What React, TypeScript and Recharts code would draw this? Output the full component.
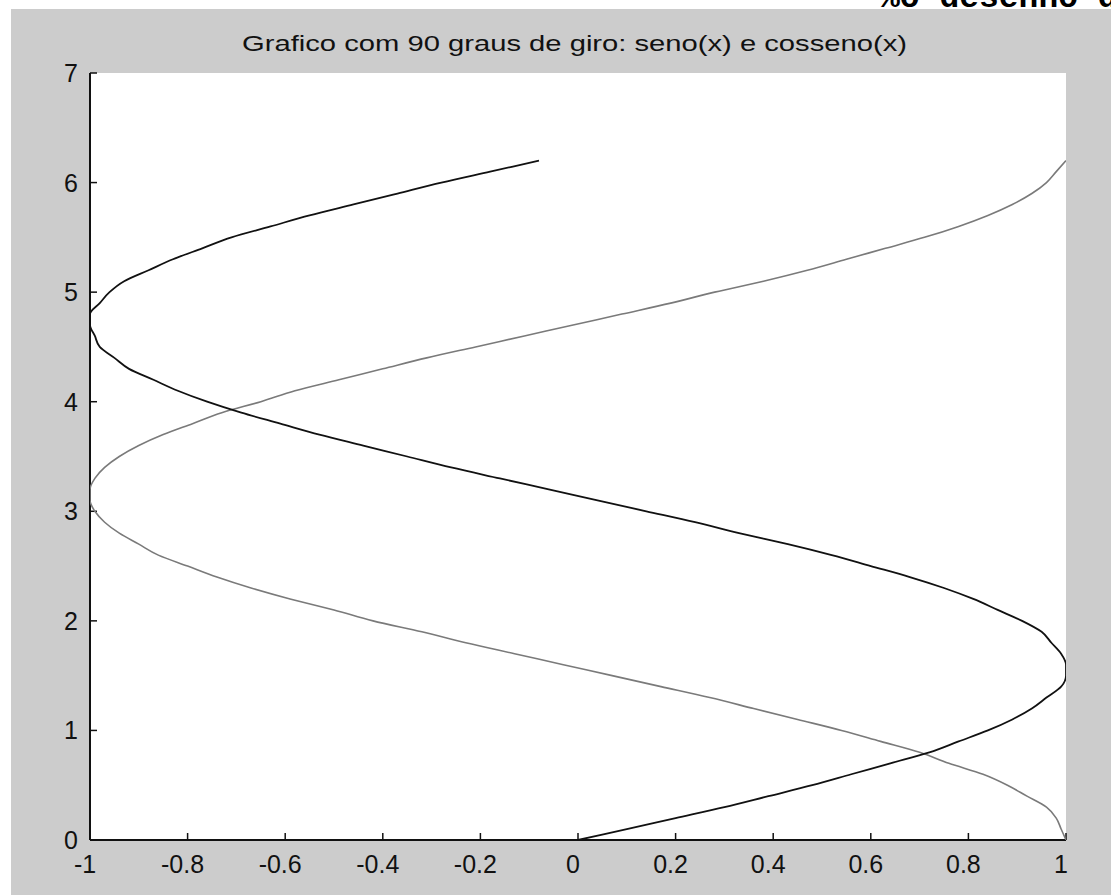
import { ScatterChart, Scatter, XAxis, YAxis, CartesianGrid } from 'recharts';

// angle (vertical axis) and the two rotated curves
const angles = [
  0, 0.1, 0.2, 0.3, 0.4, 0.5, 0.6, 0.7, 0.8, 0.9,
  1.0, 1.1, 1.2, 1.3, 1.4, 1.5, 1.6, 1.7, 1.8, 1.9,
  2.0, 2.1, 2.2, 2.3, 2.4, 2.5, 2.6, 2.7, 2.8, 2.9,
  3.0, 3.1, 3.2, 3.3, 3.4, 3.5, 3.6, 3.7, 3.8, 3.9,
  4.0, 4.1, 4.2, 4.3, 4.4, 4.5, 4.6, 4.7, 4.8, 4.9,
  5.0, 5.1, 5.2, 5.3, 5.4, 5.5, 5.6, 5.7, 5.8, 5.9,
  6.0, 6.1, 6.2,
];

const seno = [
  0, 0.1, 0.2, 0.3, 0.39, 0.48, 0.56, 0.64, 0.72, 0.78,
  0.84, 0.89, 0.93, 0.96, 0.99, 1.0, 1.0, 0.99, 0.97, 0.95,
  0.91, 0.86, 0.81, 0.75, 0.68, 0.6, 0.52, 0.43, 0.33, 0.24,
  0.14, 0.04, -0.06, -0.16, -0.26, -0.35, -0.44, -0.53, -0.61, -0.69,
  -0.76, -0.82, -0.87, -0.92, -0.95, -0.98, -0.99, -1.0, -1.0, -0.98,
  -0.96, -0.93, -0.88, -0.83, -0.77, -0.71, -0.63, -0.55, -0.46, -0.37,
  -0.28, -0.18, -0.08,
];

const cosseno = [
  1.0, 0.99, 0.98, 0.96, 0.92, 0.88, 0.83, 0.76, 0.7, 0.62,
  0.54, 0.45, 0.36, 0.27, 0.17, 0.07, -0.03, -0.13, -0.23, -0.32,
  -0.42, -0.5, -0.59, -0.67, -0.74, -0.8, -0.86, -0.9, -0.94, -0.97,
  -0.99, -1.0, -1.0, -0.99, -0.97, -0.94, -0.9, -0.85, -0.79, -0.73,
  -0.65, -0.58, -0.49, -0.4, -0.31, -0.21, -0.11, -0.01, 0.09, 0.19,
  0.28, 0.38, 0.47, 0.55, 0.63, 0.71, 0.78, 0.84, 0.89, 0.93,
  0.96, 0.98, 1.0,
];

const xTicks = [-1, -0.8, -0.6, -0.4, -0.2, 0, 0.2, 0.4, 0.6, 0.8, 1];
const yTicks = [0, 1, 2, 3, 4, 5, 6, 7];

const title = 'Grafico com 90 graus de giro: seno(x) e cosseno(x)';

const sinRows = angles.map((t, i) => ({ x: seno[i], t }));
const cosRows = angles.map((t, i) => ({ x: cosseno[i], t }));

const font = '"Liberation Sans", Arial, sans-serif';
const blank = () => '';

function XTick(p: any) {
  return (
    <text x={p.x - 5} y={p.y} dy="0.72em" textAnchor="middle" fontFamily={font} fontSize={25} fill="#111">
      {String(p.payload.value)}
    </text>
  );
}

function YTick(p: any) {
  return (
    <text x={p.x} y={p.y} dy="0.36em" textAnchor="end" fontFamily={font} fontSize={25} fill="#111">
      {String(p.payload.value)}
    </text>
  );
}

const noDot = () => <g />;

export default function App() {
  return (
    <div style={{ position: 'absolute', left: 0, top: 0, width: 1111, height: 895, background: '#fff', overflow: 'hidden' }}>
      <div style={{ position: 'absolute', left: 11, top: 9, width: 1100, height: 886, background: '#cccccc' }}>
        <ScatterChart width={1100} height={886} margin={{ top: 64, right: 45, bottom: 0, left: 0 }}>
          <CartesianGrid fill="#fff" stroke="none" horizontal={false} vertical={false} xAxisId="b" yAxisId="l" />
          <XAxis
            xAxisId="b"
            dataKey="x"
            type="number"
            domain={[-1, 1]}
            ticks={xTicks}
            allowDataOverflow
            height={55}
            tickSize={-7}
            tickMargin={22}
            tick={<XTick />}
            axisLine={{ stroke: '#111', strokeWidth: 2 }}
            tickLine={{ stroke: '#111', strokeWidth: 1.5 }}
          />
          <XAxis
            xAxisId="t"
            orientation="top"
            dataKey="x"
            type="number"
            domain={[-1, 1]}
            ticks={xTicks}
            height={0}
            tickSize={-7}
            tickFormatter={blank}
            axisLine={{ stroke: '#111', strokeWidth: 2 }}
            tickLine={{ stroke: '#111', strokeWidth: 1.5 }}
          />
          <YAxis
            yAxisId="l"
            dataKey="t"
            type="number"
            domain={[0, 7]}
            ticks={yTicks}
            allowDataOverflow
            width={79}
            tickSize={-7}
            tickMargin={19}
            tick={<YTick />}
            axisLine={{ stroke: '#111', strokeWidth: 2 }}
            tickLine={{ stroke: '#111', strokeWidth: 1.5 }}
          />
          <YAxis
            yAxisId="r"
            orientation="right"
            dataKey="t"
            type="number"
            domain={[0, 7]}
            ticks={yTicks}
            width={0}
            tickSize={-7}
            tickFormatter={blank}
            axisLine={{ stroke: '#111', strokeWidth: 2 }}
            tickLine={{ stroke: '#111', strokeWidth: 1.5 }}
          />
          <Scatter
            xAxisId="b"
            yAxisId="l"
            data={cosRows}
            line={{ stroke: '#7a7a7a', strokeWidth: 1.6 }}
            lineJointType="monotoneY"
            shape={noDot}
            isAnimationActive={false}
          />
          <Scatter
            xAxisId="b"
            yAxisId="l"
            data={sinRows}
            line={{ stroke: '#111', strokeWidth: 1.8 }}
            lineJointType="monotoneY"
            shape={noDot}
            isAnimationActive={false}
          />
        </ScatterChart>
        <svg width={1100} height={60} style={{ position: 'absolute', left: 0, top: 0, pointerEvents: 'none' }}>
          <text
            x={563.5}
            y={42}
            textAnchor="middle"
            fontFamily={font}
            fontSize={22}
            fill="#111"
            textLength={665}
            lengthAdjust="spacingAndGlyphs"
          >
            {title}
          </text>
        </svg>
      </div>
      <div style={{ position: 'absolute', left: 0, top: 0, width: 1111, height: 9, overflow: 'hidden', background: '#fff' }}>
        <svg width={1111} height={9} style={{ display: 'block' }}>
          <text x={880} y={7} fontFamily='"Liberation Mono", monospace' fontWeight="bold" fontSize={33} fill="#000">
            %o desenho do
          </text>
        </svg>
      </div>
    </div>
  );
}
